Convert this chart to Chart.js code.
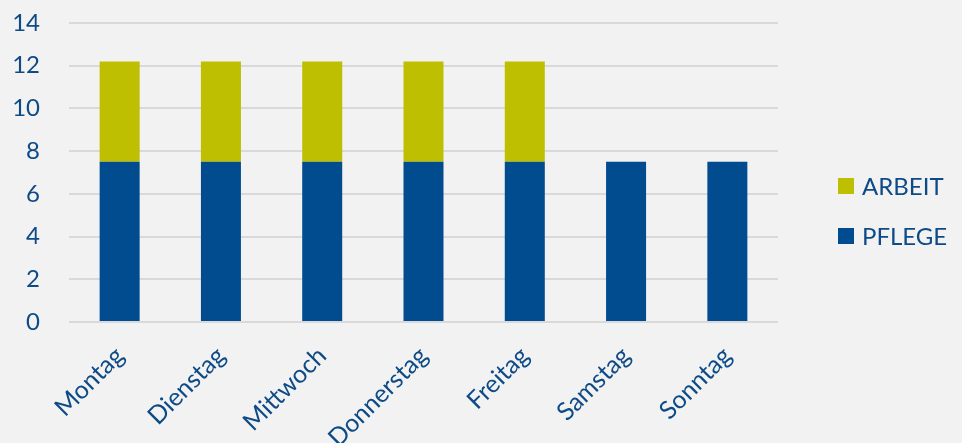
<!DOCTYPE html>
<html>
<head>
<meta charset="utf-8">
<script src="https://cdn.jsdelivr.net/npm/chart.js@4"></script>
<style>
  html, body { margin: 0; padding: 0; background: #f2f2f2; overflow: hidden; }
</style>
</head>
<body>
<canvas id="myChart" width="962" height="443"></canvas>
<script>
const days = ['Montag', 'Dienstag', 'Mittwoch', 'Donnerstag', 'Freitag', 'Samstag', 'Sonntag'];
const pflege = [7.5, 7.5, 7.5, 7.5, 7.5, 7.5, 7.5];
const arbeit = [4.7, 4.7, 4.7, 4.7, 4.7, 0, 0];

const textBlue = '#0d4a86';
const fontFamily = 'Lato';

// legend drawn by hand on the right, top item = last dataset
const sideLegend = {
    id: 'sideLegend',
    afterDraw(chart) {
        const c = chart.ctx;
        const area = chart.chartArea;
        const items = chart.data.datasets.slice().reverse();
        const x = area.right + 60;
        let y = area.top + 163;
        c.save();
        c.font = '24px ' + fontFamily;
        c.textBaseline = 'middle';
        items.forEach(ds => {
            c.fillStyle = ds.backgroundColor;
            c.fillRect(x, y - 8, 16, 16);
            c.fillStyle = textBlue;
            c.fillText(ds.label, x + 24, y + 1);
            y += 50;
        });
        c.restore();
    }
};

const ctx = document.getElementById('myChart').getContext('2d');
new Chart(ctx, {
    type: 'bar',
    data: {
        labels: days,
        datasets: [
            { label: 'PFLEGE', data: pflege, backgroundColor: '#004c8f' },
            { label: 'ARBEIT', data: arbeit, backgroundColor: '#bdbf00' }
        ]
    },
    options: {
        responsive: false,
        animation: false,
        layout: { padding: { top: 23, right: 184, left: 0, bottom: 0 } },
        datasets: {
            bar: { categoryPercentage: 1, barPercentage: 0.395 }
        },
        scales: {
            x: {
                stacked: true,
                grid: { display: false },
                border: { display: false },
                // labels run off the bottom edge on purpose
                afterFit(scale) { scale.height = 121; },
                ticks: {
                    color: textBlue,
                    font: { family: fontFamily, size: 25 },
                    maxRotation: 45,
                    minRotation: 45,
                    padding: 11
                }
            },
            y: {
                stacked: true,
                min: 0,
                max: 14,
                afterFit(scale) {
                    scale.width = 69;
                    // tick padding would otherwise push the plot down
                    scale.paddingTop = 0;
                    scale.paddingBottom = 0;
                },
                ticks: {
                    stepSize: 2,
                    color: textBlue,
                    font: { family: fontFamily, size: 24 },
                    padding: 29
                },
                grid: { color: '#d9d9d9', lineWidth: 2, drawTicks: false },
                border: { display: false }
            }
        },
        plugins: {
            legend: { display: false },
            tooltip: { enabled: false }
        }
    },
    plugins: [sideLegend]
});
</script>
</body>
</html>
